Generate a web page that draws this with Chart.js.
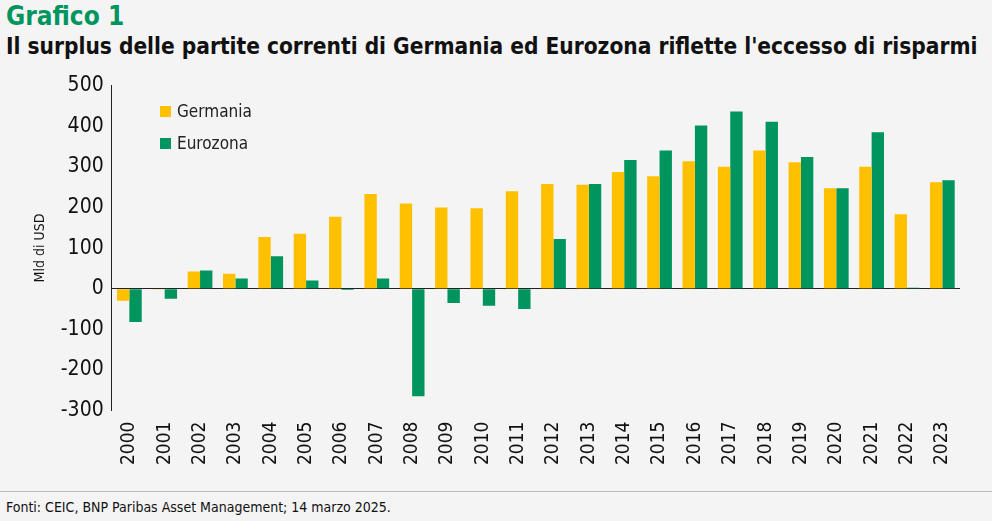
<!DOCTYPE html>
<html><head><meta charset="utf-8">
<script src="https://cdn.jsdelivr.net/npm/chart.js@4"></script>
<style>
body{margin:0;background:#f4f4f4;font-family:"DejaVu Sans Condensed","DejaVu Sans",sans-serif;}
#wrap{position:relative;width:992px;height:521px;}
#t1{position:absolute;left:6px;top:1px;font-size:26px;font-weight:bold;color:#00945e;}
#t2{position:absolute;left:6px;top:33px;font-size:22.5px;font-weight:bold;color:#111;}
#src{position:absolute;left:6px;top:499px;font-size:14px;color:#111;}
#cv{position:absolute;left:0;top:65px;}
.lg{position:absolute;font-size:17px;color:#222;}
.lg span{display:inline-block;width:11px;height:11px;margin-right:6px;}
#rule{position:absolute;left:0;top:491px;width:992px;border-top:1px solid #bbb;}
</style></head><body>
<div id="wrap">
<div id="t1">Grafico 1</div>
<div id="t2">Il surplus delle partite correnti di Germania ed Eurozona riflette l'eccesso di risparmi</div>
<canvas id="cv" width="992" height="425"></canvas>
<div class="lg" style="left:160px;top:101px"><span style="background:#ffc000"></span>Germania</div>
<div class="lg" style="left:160px;top:133px"><span style="background:#00945e"></span>Eurozona</div>
<div id="rule"></div>
<div id="src">Fonti: CEIC, BNP Paribas Asset Management; 14 marzo 2025.</div>
</div>
<script>
const years = ["2000","2001","2002","2003","2004","2005","2006","2007","2008","2009","2010","2011","2012","2013","2014","2015","2016","2017","2018","2019","2020","2021","2022","2023"];
const germania = [-30,-2,42,37,127,135,177,233,210,200,198,240,258,256,287,277,314,300,340,311,247,300,183,262];
const eurozona = [-82,-25,45,25,80,20,-3,25,-265,-35,-42,-50,122,258,317,340,402,436,411,324,247,385,2,267];
const yTicks = [-300,-200,-100,0,100,200,300,400,500];

new Chart(document.getElementById("cv"), {
  type: "bar",
  data: {
    labels: years,
    datasets: [
      {label: "Germania", data: germania, backgroundColor: "#ffc000", categoryPercentage: 0.7, barPercentage: 1},
      {label: "Eurozona", data: eurozona, backgroundColor: "#00945e", categoryPercentage: 0.7, barPercentage: 1}
    ]
  },
  options: {
    responsive: false, animation: false,
    layout: {padding: {left: 28, right: 32, top: 0, bottom: 22}},
    plugins: {legend: {display: false}, tooltip: {enabled: false}},
    scales: {
      x: {
        grid: {display: false}, border: {display: false},
        ticks: {color: "#111", font: {size: 19, family: "DejaVu Sans Condensed"}, maxRotation: 90, minRotation: 90}
      },
      y: {
        min: -300, max: 500,
        afterBuildTicks: ax => { ax.ticks = yTicks.map(v => ({value: v})); },
        grid: {color: c => c.tick.value === 0 ? "#222" : "transparent", drawTicks: false},
        border: {color: "#222"},
        ticks: {color: "#111", font: {size: 21, family: "DejaVu Sans Condensed"}, padding: 8},
        title: {display: true, text: "Mld di USD", color: "#111", font: {size: 14, family: "DejaVu Sans Condensed"}}
      }
    }
  }
});
</script>
</body></html>
